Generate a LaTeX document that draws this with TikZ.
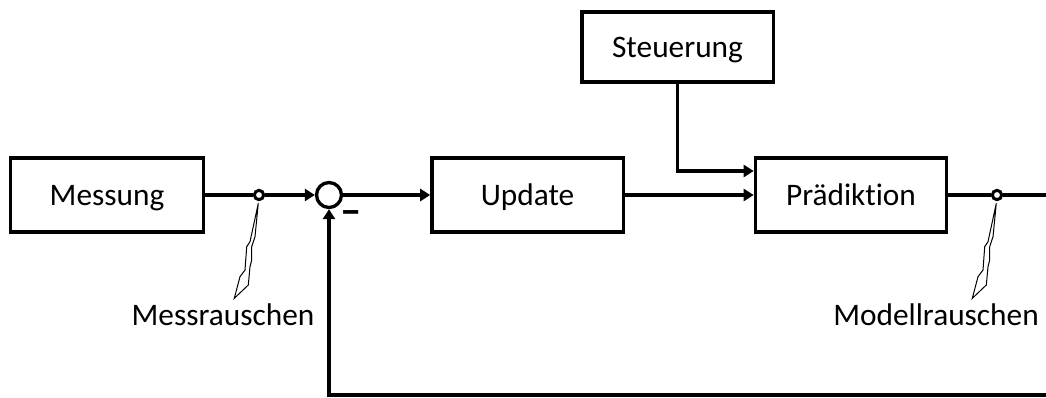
\documentclass[tikz,border=0pt]{standalone}
\usepackage{fontspec}
\setmainfont{Carlito}[Ligatures=NoCommon]
\usetikzlibrary{arrows.meta,positioning,calc}
\tikzset{
block/.style = {draw, fill=white, rectangle, line width=2.5pt, minimum height=55.5pt, minimum width=143.5pt, text height=15pt, text depth=0pt},
tmp/.style  = {coordinate},
sum/.style= {draw, fill=white, circle, line width=2.5pt, minimum size=18.75pt, inner sep=0pt},
knoten/.style = {draw, fill=white, circle, line width=2.25pt, minimum size=7pt, inner sep=0pt},
rauschen/.style = {line width=0.75pt, line join=miter}
}

\begin{document}
\begin{tikzpicture}[x=0.75pt, y=-0.75pt, line width=2.5pt, >={Triangle[length=7.5pt,width=9pt]}, font=\fontsize{23.5}{28}\selectfont]
					\useasboundingbox (0,0) rectangle (1046,397);
					\node[block, minimum width=145pt] (messung) at (107,195) {Messung};
					\node[knoten, right of=messung, node distance=114pt] (mr) {};
					\node[sum, right of=mr, node distance=52.5pt] (sum1) {};
					\node[block, right of=sum1, node distance=148.9pt] (update) {Update};
					\node[block, right of=update, node distance=242.6pt] (praed) {Prädiktion};
					\node[knoten, right of=praed, node distance=109.5pt] (mor) {};
					\node[block, minimum height=52.5pt] (steuerung) at (677.5,47) {Steuerung};
					\node[tmp] (p_in) at ([yshift=18pt]praed.west) {};
					\node[tmp] (rueck) at (1048,395) {};
					\draw (messung) -- (mr);
					\draw[->] (mr) -- (sum1);
					\draw[->] (sum1) -- (update);
					\draw[->] (update) -- (praed);
					\draw[->] (steuerung) |- (p_in);
					\draw (praed) -- (mor);
					\draw[->] (mor) -| (rueck) -| (sum1.south);
					\node[font=\fontsize{32}{36}\selectfont\bfseries, inner sep=0pt] (minus) at ([shift={(16.5pt,-17pt)}]sum1.center) {–};
					\foreach \j in {mr, mor}
						\draw[rauschen, shift={(\j.center)}] (-0.7,8.3) -- (-4,41.7) -- (-7.3,51.7) -- (-7.3,65) -- (-9,71.7) -- (-10.7,90) -- (-24.7,103.3) -- (-19,81.7) -- (-14,75) -- (-12.3,51.7) -- (-9,46.7) -- cycle;
					\node[anchor=base] (messrauschen) at (223,325) {Messrauschen};
					\node[anchor=base] (modellrauschen) at (936,325) {Modellrauschen};
				\end{tikzpicture}
\end{document}
